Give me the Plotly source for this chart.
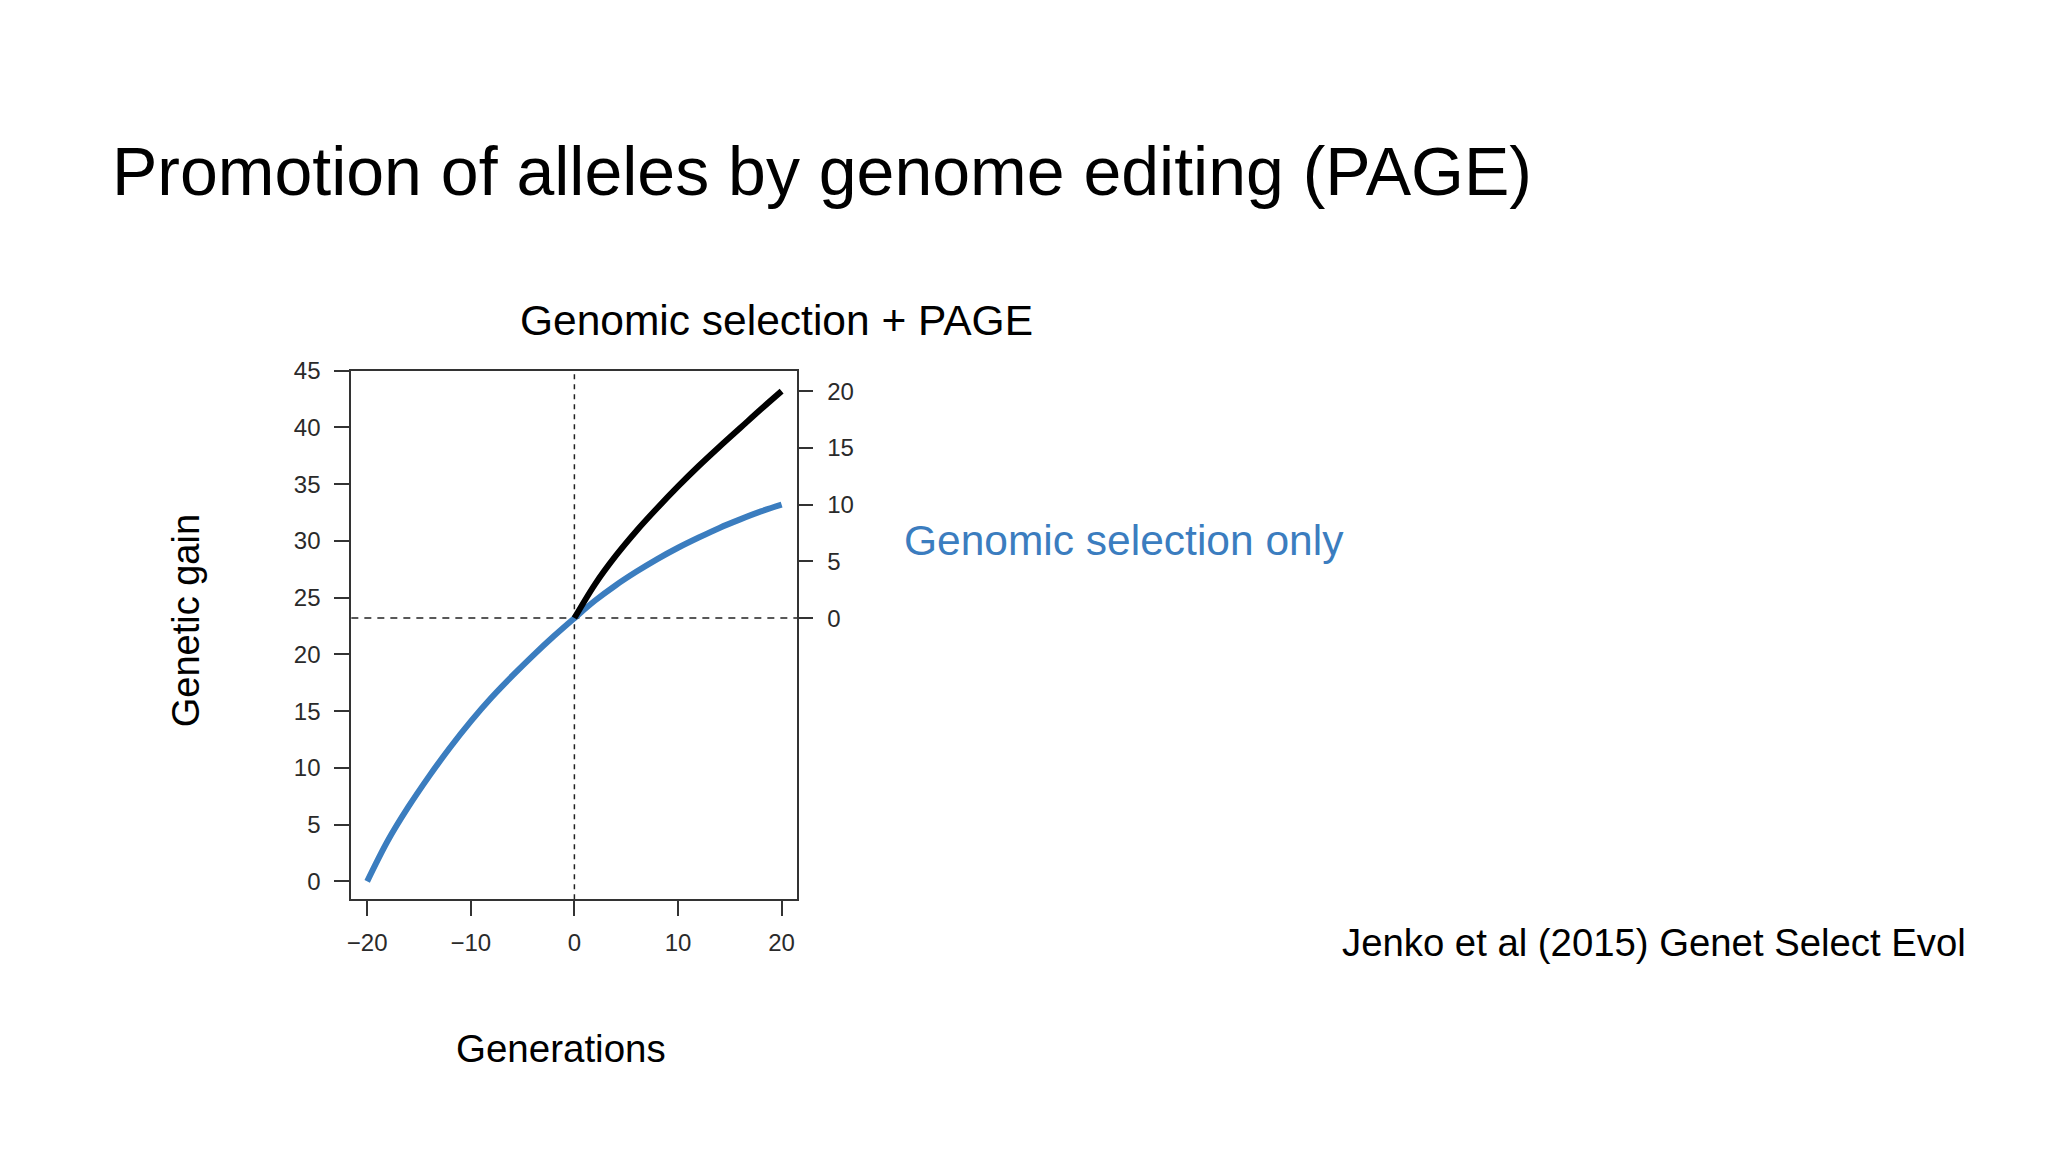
import plotly.graph_objects as go

# ---- data ----
generations_gs = [-20, -18, -16, -14, -12, -10, -8, -6, -4, -2, 0,
                  2, 4, 6, 8, 10, 12, 14, 16, 18, 20]
gain_gs = [0.0, 3.6, 6.6, 9.3, 11.8, 14.1, 16.2, 18.1, 19.9, 21.6, 23.2,
           24.75, 26.1, 27.3, 28.4, 29.4, 30.3, 31.15, 31.9, 32.6, 33.2]
generations_page = [0, 2, 4, 6, 8, 10, 12, 14, 16, 18, 20]
gain_page = [23.2, 26.2, 28.7, 30.9, 32.9, 34.8, 36.6, 38.3, 39.95, 41.6, 43.2]

baseline_gain = 23.2      # gain at generation 0 (origin of right axis)
start_generation = 0
x_ticks = [-20, -10, 0, 10, 20]
y_ticks = [0, 5, 10, 15, 20, 25, 30, 35, 40, 45]
y2_ticks = [0, 5, 10, 15, 20]

W, H = 2048, 1152
FONT = "Liberation Sans, Arial, Helvetica, sans-serif"
BLUE = "#3b7dbf"
AX = "#333333"
TICKC = "#2a2a2a"

def px(x):
    return x / W

def py(y):
    return 1 - y / H

fig = go.Figure()
fig.add_trace(go.Scatter(x=generations_gs, y=gain_gs, mode="lines",
                         line=dict(color=BLUE, width=6, shape="spline", smoothing=1.0),
                         showlegend=False, hoverinfo="x+y"))
fig.add_trace(go.Scatter(x=generations_page, y=gain_page, mode="lines",
                         line=dict(color="#000000", width=6, shape="spline", smoothing=1.0),
                         showlegend=False, hoverinfo="x+y"))
# invisible trace to activate right axis
fig.add_trace(go.Scatter(x=[generations_page[0]], y=[0], yaxis="y2", mode="markers",
                         marker=dict(opacity=0), showlegend=False, hoverinfo="skip"))

y_lo, y_hi = -1.57, 45.0
fig.update_layout(
    width=W, height=H,
    margin=dict(l=0, r=0, t=0, b=0),
    paper_bgcolor="white", plot_bgcolor="white",
    font=dict(family=FONT, color="#222222"),
    xaxis=dict(domain=[px(340), px(787)], range=[-21.53, 21.53],
               tickvals=x_ticks, ticks="outside", ticklen=15, tickwidth=1.5,
               tickcolor=AX, showline=True, mirror=True, linecolor=AX, linewidth=2,
               showgrid=False, zeroline=False, tickfont=dict(size=24, color=TICKC),
               ticklabelstandoff=6, fixedrange=True),
    yaxis=dict(domain=[py(888), py(353)], range=[y_lo, y_hi],
               tickvals=y_ticks, ticks="outside", ticklen=15, tickwidth=1.5,
               tickcolor=AX, showline=True, mirror=True, linecolor=AX, linewidth=2,
               showgrid=False, zeroline=False, tickfont=dict(size=24, color=TICKC),
               ticklabelstandoff=9, fixedrange=True),
    yaxis2=dict(overlaying="y", side="right", anchor="x",
                range=[y_lo - baseline_gain, y_hi - baseline_gain],
                tickvals=y2_ticks, ticks="outside", ticklen=15, tickwidth=1.5,
                tickcolor=AX, showline=False, showgrid=False, zeroline=False,
                tickfont=dict(size=24, color=TICKC), ticklabelstandoff=9,
                fixedrange=True),
)

fig.add_hline(y=baseline_gain, line=dict(color="#222222", width=1.5, dash="7px,6px"),
              layer="below")
fig.add_vline(x=start_generation, line=dict(color="#222222", width=1.5, dash="5px,5px"),
              layer="below")

annos = [
    dict(text="Promotion of alleles by genome editing (PAGE)", x=px(98), y=py(151),
         xanchor="left", yanchor="middle", font=dict(size=68, color="#000000")),
    dict(text="Genomic selection + PAGE", x=px(766), y=py(302),
         xanchor="center", yanchor="middle", font=dict(size=42.5, color="#000000")),
    dict(text="Genomic selection only", x=px(892), y=py(525),
         xanchor="left", yanchor="middle", font=dict(size=42.5, color=BLUE)),
    dict(text="Genetic gain", x=px(174), y=py(606), textangle=-90,
         xanchor="center", yanchor="middle", font=dict(size=38, color="#000000")),
    dict(text="Generations", x=px(550), y=py(1039),
         xanchor="center", yanchor="middle", font=dict(size=38.5, color="#000000")),
    dict(text="Jenko et al (2015) Genet Select Evol", x=px(1331), y=py(932),
         xanchor="left", yanchor="middle", font=dict(size=38.3, color="#000000")),
]
for a in annos:
    fig.add_annotation(xref="paper", yref="paper", showarrow=False, **a)

fig.write_html("out.html")
